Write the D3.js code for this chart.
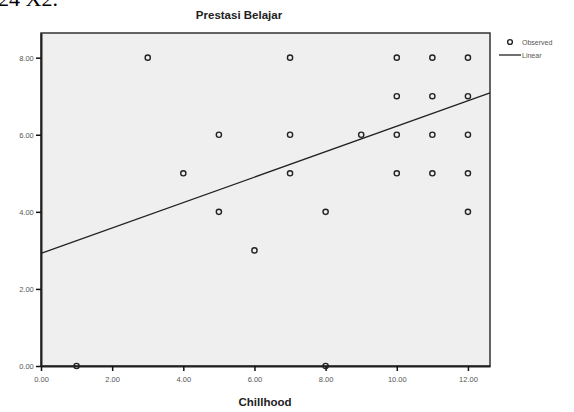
<!DOCTYPE html>
<html><head><meta charset="utf-8">
<script src="https://cdn.jsdelivr.net/npm/d3@7"></script>
<style>body{margin:0;background:#fff}svg{display:block}</style>
</head><body>
<svg id="c" width="574" height="412"></svg>
<script>
const chillhood = [1,3,4,5,5,6,7,7,7,8,8,9,10,10,10,10,11,11,11,11,12,12,12,12,12];
const prestasi  = [0,8,5,6,4,3,8,6,5,4,0,6,8,7,6,5,8,7,6,5,8,7,6,5,4];
const xTicks = [0,2,4,6,8,10,12];
const yTicks = [0,2,4,6,8];
const fitIntercept = 2.92;
const fitSlope = 0.33;

const svg = d3.select("#c");
const L=41, R=490, T=33, B=366;
const x = d3.scaleLinear().domain([0,12.62]).range([L,R]);
const y = d3.scaleLinear().domain([0,8.64]).range([B,T]);

// stray text at top (cropped)
svg.append("text").attr("x",-2).attr("y",6).attr("font-family","Liberation Serif, serif")
  .attr("font-size",22).attr("fill","#000").text("24 X2.");

svg.append("rect").attr("x",L).attr("y",T).attr("width",R-L).attr("height",B-T)
  .attr("fill","#efefef").attr("stroke","#333").attr("stroke-width",1.5);

svg.append("text").attr("x",239).attr("y",19).attr("text-anchor","middle")
  .attr("font-family","Liberation Sans, Arial, sans-serif").attr("font-weight","bold")
  .attr("font-size",11.5).attr("fill","#222").text("Prestasi Belajar");

const xa = svg.append("g").attr("transform",`translate(0,${B})`)
  .call(d3.axisBottom(x).tickValues(xTicks).tickFormat(d3.format(".2f")).tickSize(5).tickSizeOuter(0));
const ya = svg.append("g").attr("transform",`translate(${L},0)`)
  .call(d3.axisLeft(y).tickValues(yTicks).tickFormat(d3.format(".2f")).tickSize(5).tickSizeOuter(0));
[xa,ya].forEach(a=>{
  a.select(".domain").attr("stroke","#222").attr("stroke-width",2);
  a.selectAll(".tick line").attr("stroke","#111").attr("stroke-width",1.5);
  a.selectAll(".tick text").attr("font-family","Liberation Sans, Arial, sans-serif")
    .attr("font-size",7.5).attr("fill","#555");
});
xa.selectAll(".tick text").attr("dy","1.0em");
ya.selectAll(".tick text").attr("dx","0.1em");

// regression line
svg.append("line").attr("x1",x(0)).attr("y1",y(fitIntercept))
  .attr("x2",R).attr("y2",y(fitIntercept+fitSlope*x.invert(R)))
  .attr("stroke","#222").attr("stroke-width",1.3);

svg.append("g").selectAll("circle").data(chillhood.map((v,i)=>[v,prestasi[i]]))
  .join("circle").attr("cx",d=>x(d[0])).attr("cy",d=>y(d[1])).attr("r",2.6)
  .attr("fill","none").attr("stroke","#222").attr("stroke-width",1.4);

svg.append("text").attr("x",265).attr("y",406).attr("text-anchor","middle")
  .attr("font-family","Liberation Sans, Arial, sans-serif").attr("font-weight","bold")
  .attr("font-size",11.5).attr("fill","#222").text("Chillhood");

// legend
svg.append("circle").attr("cx",510).attr("cy",42).attr("r",2.4).attr("fill","none")
  .attr("stroke","#222").attr("stroke-width",1.4);
svg.append("text").attr("x",522).attr("y",45).attr("font-family","Liberation Sans, Arial, sans-serif")
  .attr("font-size",7).attr("fill","#555").text("Observed");
svg.append("line").attr("x1",499).attr("x2",521).attr("y1",55).attr("y2",55)
  .attr("stroke","#222").attr("stroke-width",1.3);
svg.append("text").attr("x",522).attr("y",58).attr("font-family","Liberation Sans, Arial, sans-serif")
  .attr("font-size",7).attr("fill","#555").text("Linear");
</script>
</body></html>
